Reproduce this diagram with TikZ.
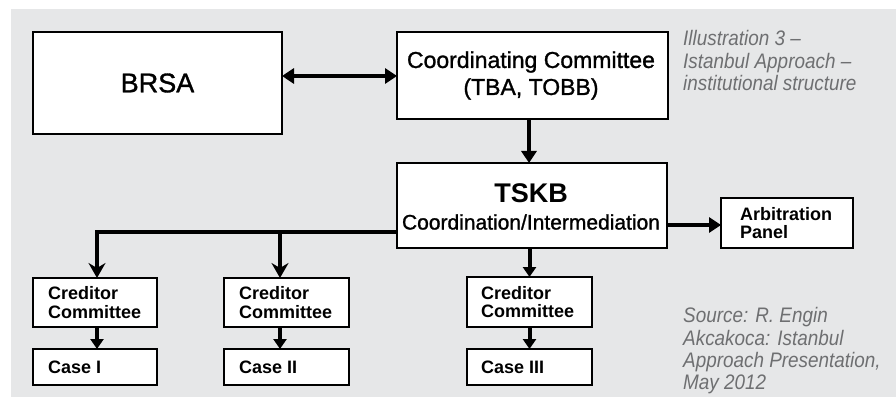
\documentclass[tikz,border=0pt]{standalone}
\usepackage{fontspec}
\setmainfont{Liberation Sans}
\newfontfamily\notefont[FakeStretch=0.9]{Liberation Sans}
\newfontfamily\medfont[FakeBold=1.2]{Liberation Sans}
\usetikzlibrary{arrows.meta,calc}
\definecolor{bggray}{RGB}{230,231,232}
\definecolor{notegray}{RGB}{110,111,113}
\begin{document}
\begin{tikzpicture}[x=1pt,y=-1pt,
  box/.style={draw=black,line width=1.8pt,fill=white,inner sep=0pt,outer sep=0pt},
  txt/.style={inner sep=0pt,font=\medfont\fontsize{#1}{#1}\selectfont},
  conn/.style={line width=4pt,-{Triangle[length=12pt,width=15pt]}},
  sconn/.style={line width=4pt,-{Triangle[length=10pt,width=13pt]}},
  vconn/.style={line width=4pt,-{Stealth[length=15pt,width=17pt,inset=5pt]}},
  ctext/.style={anchor=west,align=left,inner sep=0pt,font=\bfseries\fontsize{18}{18.5}\selectfont},
  note/.style={anchor=north west,align=left,text=notegray,font=\notefont\itshape\fontsize{21}{22.3}\selectfont,inner sep=0pt}]
\useasboundingbox (0,0) rectangle (896,398);
\fill[bggray] (11,9) rectangle (896,397);

\node[box,minimum width=249pt,minimum height=102pt] (brsa) at (157.5,83) {};
\node[txt=27] (brsat) at (157.5,83) {BRSA};
\node[box,minimum width=271pt,minimum height=87pt] (coord) at (532.5,75.5) {};
\node[txt=23] (coordt1) at (531,62) {Coordinating Committee};
\node[txt=23] (coordt2) at (531,89) {(TBA, TOBB)};
\node[box,minimum width=270pt,minimum height=85pt] (tskb) at (532,205.5) {};
\node[inner sep=0pt,font=\bfseries\fontsize{27}{27}\selectfont] (tskbt) at (531,193) {TSKB};
\node[txt=21] (tskbt2) at (531,222) {Coordination/Intermediation};
\node[box,minimum width=132pt,minimum height=50pt] (arb) at (787,223) {};
\node[ctext] (arbt) at (740,223) {Arbitration\\Panel};

\node[box,minimum width=124pt,minimum height=49pt] (cred1) at (95,302.5) {};
\node[box,minimum width=125pt,minimum height=49pt] (cred2) at (286.5,302.5) {};
\node[box,minimum width=125pt,minimum height=50pt] (cred3) at (529.5,302) {};
\node[box,minimum width=124pt,minimum height=36pt] (case1) at (95,367) {};
\node[box,minimum width=125pt,minimum height=36pt] (case2) at (286.5,367) {};
\node[box,minimum width=125pt,minimum height=36pt] (case3) at (529.5,367) {};

\node[ctext] (c1t) at (48,302.5) {Creditor\\Committee};
\node[ctext] (c2t) at (239,302.5) {Creditor\\Committee};
\node[ctext] (c3t) at (481,302) {Creditor\\Committee};
\node[ctext] (k1t) at (48,367) {Case I};
\node[ctext] (k2t) at (239,367) {Case II};
\node[ctext] (k3t) at (481,367) {Case III};

% connectors
\draw[line width=4pt,{Triangle[length=12pt,width=15pt]}-{Triangle[length=12pt,width=15pt]}] (brsa.east |- 0,76) -- (coord.west |- 0,76);
\draw[conn] (coord.south -| 529,0) -- (tskb.north -| 529,0);
\draw[conn] (tskb.east |- 0,225) -- (arb.west |- 0,225);
\coordinate (b1) at (97,232);
\coordinate (b2) at (280,232);
\draw[line width=4pt] (tskb.west |- b1) -- ([xshift=-2pt]b1);
\draw[vconn] (b1) -- (cred1.north -| b1);
\draw[vconn] (b2) -- (cred2.north -| b2);
\draw[sconn] (tskb.south -| cred3) -- (cred3.north);
\draw[sconn] (cred1.south -| b1) -- (case1.north -| b1);
\draw[sconn] (cred2.south -| b2) -- (case2.north -| b2);
\draw[sconn] (cred3.south) -- (case3.north);

\node[note] (illus) at (683,30.5) {Illustration 3 –\\Istanbul Approach –\\institutional structure};
\node[note] (src) at (683,307.5) {Source: R. Engin\\Akcakoca: Istanbul\\Approach Presentation,\\May 2012};
\end{tikzpicture}
\end{document}
